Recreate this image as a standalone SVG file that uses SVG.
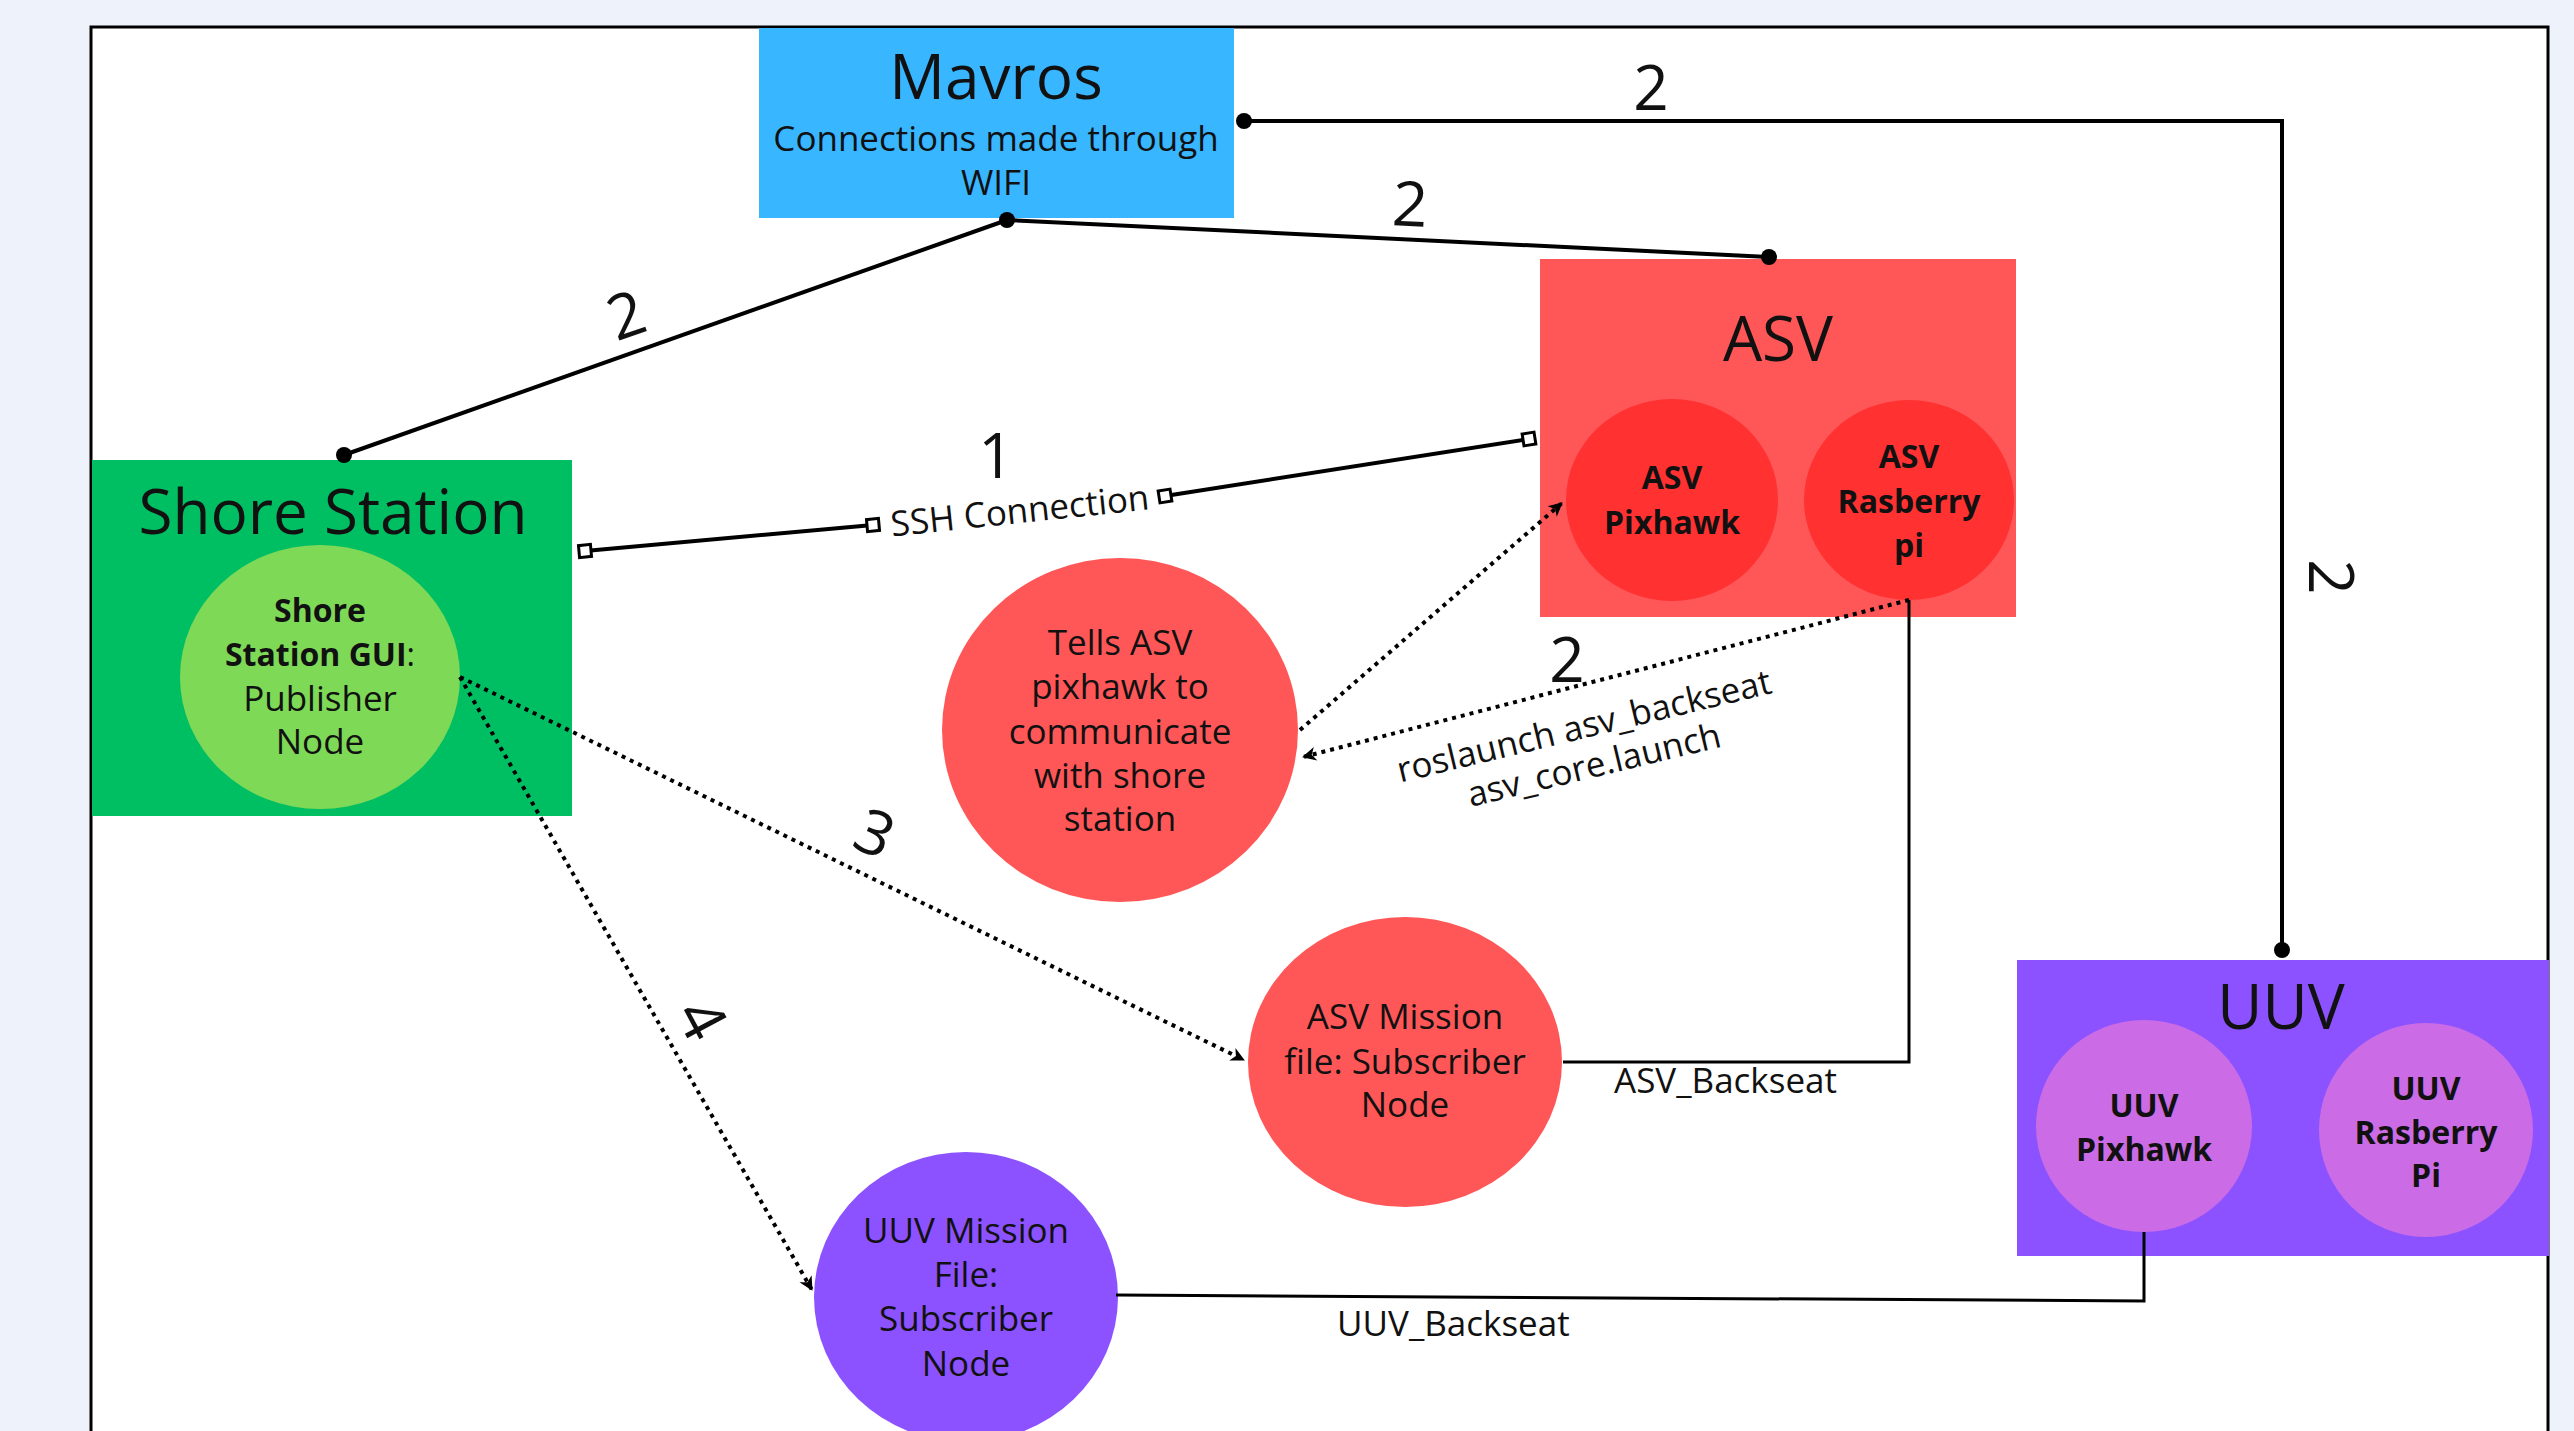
<svg xmlns="http://www.w3.org/2000/svg" width="2574" height="1431" viewBox="0 0 2574 1431">
<defs>
<style>
.t{font-family:"Open Sans","Noto Sans","Liberation Sans",sans-serif;fill:#111;text-anchor:middle}
.title{font-size:62px}
.sub{font-size:35px}
.b{font-size:32px;font-weight:700}
.n{font-size:35px}
.num{font-size:62px}
.lbl{font-size:35px;text-anchor:start}
.solid{fill:none;stroke:#000;stroke-width:4}
.thin{fill:none;stroke:#000;stroke-width:3}
.dotted{fill:none;stroke:#000;stroke-width:4;stroke-dasharray:4 5}
</style>
<marker id="dot" markerUnits="userSpaceOnUse" markerWidth="20" markerHeight="20" refX="10" refY="10" viewBox="0 0 20 20"><circle cx="10" cy="10" r="8" fill="#000"/></marker>
<marker id="sq" markerUnits="userSpaceOnUse" markerWidth="18" markerHeight="18" refX="9" refY="9" viewBox="0 0 18 18" orient="auto"><rect x="3" y="3" width="12" height="12" fill="#fff" stroke="#000" stroke-width="3"/></marker>
<marker id="arr" markerUnits="userSpaceOnUse" markerWidth="18" markerHeight="18" refX="15" refY="9" viewBox="0 0 18 18" orient="auto"><path d="M2,2 L16,9 L2,16 L6,9 Z" fill="#000"/></marker>
</defs>
<rect width="2574" height="1431" fill="#eef2fa"/>
<rect x="91" y="27" width="2457" height="1420" fill="#fff" stroke="#000" stroke-width="3"/>

<g id="mavros">
<rect x="759" y="28" width="475" height="190" fill="#38b6ff"/>
<text class="t title" x="996" y="99">Mavros</text>
<text class="t sub" x="996" y="151">Connections made through</text>
<text class="t sub" x="996" y="195">WIFI</text>
</g>

<g id="shore-station">
<rect x="92" y="460" width="480" height="356" fill="#00bf63"/>
<text class="t title" x="333" y="534">Shore Station</text>
</g>
<g id="shore-gui">
<ellipse cx="320" cy="677" rx="140" ry="132" fill="#7ed957"/>
<text class="t b" x="320" y="622">Shore</text>
<text class="t b" x="320" y="666">Station GUI<tspan font-weight="400">:</tspan></text>
<text class="t n" x="320" y="711">Publisher</text>
<text class="t n" x="320" y="754">Node</text>
</g>

<g id="asv">
<rect x="1540" y="259" width="476" height="358" fill="#ff5757"/>
<text class="t title" x="1778" y="361">ASV</text>
</g>
<g id="asv-pixhawk">
<ellipse cx="1672" cy="500" rx="106" ry="101" fill="#ff3131"/>
<text class="t b" x="1672" y="489">ASV</text>
<text class="t b" x="1672" y="534">Pixhawk</text>
</g>
<g id="asv-rasberry-pi">
<ellipse cx="1909" cy="500" rx="105" ry="100" fill="#ff3131"/>
<text class="t b" x="1909" y="468">ASV</text>
<text class="t b" x="1909" y="513">Rasberry</text>
<text class="t b" x="1909" y="557">pi</text>
</g>

<g id="tells-asv">
<ellipse cx="1120" cy="730" rx="178" ry="172" fill="#ff5757"/>
<text class="t n" x="1120" y="655">Tells ASV</text>
<text class="t n" x="1120" y="699">pixhawk to</text>
<text class="t n" x="1120" y="744">communicate</text>
<text class="t n" x="1120" y="788">with shore</text>
<text class="t n" x="1120" y="831">station</text>
</g>

<g id="asv-mission">
<ellipse cx="1405" cy="1062" rx="157" ry="145" fill="#ff5757"/>
<text class="t n" x="1405" y="1029">ASV Mission</text>
<text class="t n" x="1405" y="1074">file: Subscriber</text>
<text class="t n" x="1405" y="1117">Node</text>
</g>

<g id="uuv">
<rect x="2017" y="960" width="532" height="296" fill="#8c52ff"/>
<text class="t title" x="2281" y="1029">UUV</text>
</g>
<g id="uuv-pixhawk">
<ellipse cx="2144" cy="1126" rx="108" ry="106" fill="#cb6ce6"/>
<text class="t b" x="2144" y="1117">UUV</text>
<text class="t b" x="2144" y="1161">Pixhawk</text>
</g>
<g id="uuv-rasberry-pi">
<ellipse cx="2426" cy="1130" rx="107" ry="107" fill="#cb6ce6"/>
<text class="t b" x="2426" y="1100">UUV</text>
<text class="t b" x="2426" y="1144">Rasberry</text>
<text class="t b" x="2426" y="1187">Pi</text>
</g>

<g id="uuv-mission">
<ellipse cx="966" cy="1297" rx="152" ry="145" fill="#8c52ff"/>
<text class="t n" x="966" y="1243">UUV Mission</text>
<text class="t n" x="966" y="1287">File:</text>
<text class="t n" x="966" y="1331">Subscriber</text>
<text class="t n" x="966" y="1376">Node</text>
</g>

<g id="connectors">
<path class="solid" d="M1244,121 H2282 V950" marker-start="url(#dot)" marker-end="url(#dot)"/>
<path class="solid" d="M1007,220 L344,455" marker-start="url(#dot)" marker-end="url(#dot)"/>
<path class="solid" d="M1007,220 L1769,257" marker-end="url(#dot)"/>
<path class="solid" d="M585,551 L873,525" marker-start="url(#sq)" marker-end="url(#sq)"/>
<path class="solid" d="M1165,496 L1529,439" marker-start="url(#sq)" marker-end="url(#sq)"/>
<path class="dotted" d="M460,677 L1244,1060" marker-end="url(#arr)"/>
<path class="dotted" d="M460,677 L812,1290" marker-end="url(#arr)"/>
<path class="dotted" d="M1909,600 L1303,757" marker-end="url(#arr)"/>
<path class="dotted" d="M1300,730 L1562,503" marker-end="url(#arr)"/>
<path class="thin" d="M1909,600 V1062 H1563"/>
<path class="thin" d="M2144,1232 V1301 L1116,1295"/>
</g>

<g id="connector-labels">
<text class="t num" x="1651" y="110">2</text>
<text class="t num" x="626" y="337" transform="rotate(-19 626 315)">2</text>
<text class="t num" x="1410" y="226" transform="rotate(3 1410 204)">2</text>
<text class="t num" x="0" y="22" transform="translate(2331 577) rotate(90)">2</text>
<text class="t num" x="996" y="478">1</text>
<text class="t sub" x="1020" y="523" transform="rotate(-6 1020 512)">SSH Connection</text>
<text class="t num" x="875" y="855" transform="rotate(24 875 833)">3</text>
<text class="t num" x="0" y="22" transform="translate(702 1019) rotate(62)">4</text>
<text class="t num" x="1567" y="682">2</text>
<text class="t sub" x="1584" y="738" transform="rotate(-13.5 1584 726)">roslaunch asv_backseat</text>
<text class="t sub" x="1594" y="777" transform="rotate(-13.5 1594 765)">asv_core.launch</text>
<text class="t lbl" x="1614" y="1093">ASV_Backseat</text>
<text class="t lbl" x="1337" y="1336">UUV_Backseat</text>
</g>
</svg>
